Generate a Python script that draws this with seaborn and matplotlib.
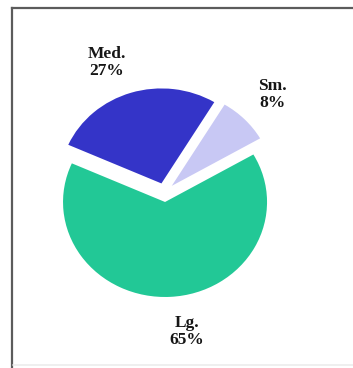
import matplotlib
matplotlib.use("Agg")
import matplotlib.pyplot as plt
import numpy as np
import seaborn as sns

# Share of sizes
categories = ["Sm.", "Med.", "Lg."]
shares = [8, 27, 65]
colors = ["#c8c8f4", "#3434c8", "#22c896"]

sns.set_theme(style="white")
plt.rcParams["font.family"] = ["Liberation Serif", "DejaVu Serif"]

W, H, DPI = 353, 368, 100
fig = plt.figure(figsize=(W / DPI, H / DPI), dpi=DPI)
fig.patch.set_facecolor("white")
ax = fig.add_axes([0, 0, 1, 1])

labels = [f"{c}\n{v}%" for c, v in zip(categories, shares)]
wedges, texts = ax.pie(
    shares,
    labels=labels,
    colors=colors,
    startangle=30,
    counterclock=True,
    explode=[0.1, 0.1, 0.1],
    labeldistance=1.47,
    wedgeprops=dict(linewidth=0),
    textprops=dict(ha="center", va="center", fontsize=12.5,
                   fontweight="bold", color="#161616", linespacing=1.1),
)

# nudge label angles a little around each wedge's middle
nudges = [0.0, 5.0, 5.5]
for w, t, dn in zip(wedges, texts, nudges):
    mid = np.deg2rad((w.theta1 + w.theta2) / 2 + dn)
    t.set_position((1.48 * np.cos(mid), 1.48 * np.sin(mid)))

# slightly wider than tall, centred in the frame
px_x, px_y = 102.0, 95.0
cx, cy = 164.5, 192.5
ax.set_aspect("auto")
ax.set_xlim(-cx / px_x, (W - cx) / px_x)
ax.set_ylim(-(H - cy) / px_y, cy / px_y)
ax.axis("off")

# frame around the chart (left and top edges fall inside the image)
x0, y0 = 12 / W, 1 - 8 / H
fig.lines.append(plt.Line2D([x0, x0], [0, y0], transform=fig.transFigure,
                            color="#5c5c5c", linewidth=1.6, solid_capstyle="projecting"))
fig.lines.append(plt.Line2D([x0, 1], [y0, y0], transform=fig.transFigure,
                            color="#5c5c5c", linewidth=1.6, solid_capstyle="projecting"))
fig.lines.append(plt.Line2D([13 / W, 1], [3 / H, 3 / H], transform=fig.transFigure,
                            color="#ececec", linewidth=1.2))

fig.savefig("out.png", dpi=DPI)
